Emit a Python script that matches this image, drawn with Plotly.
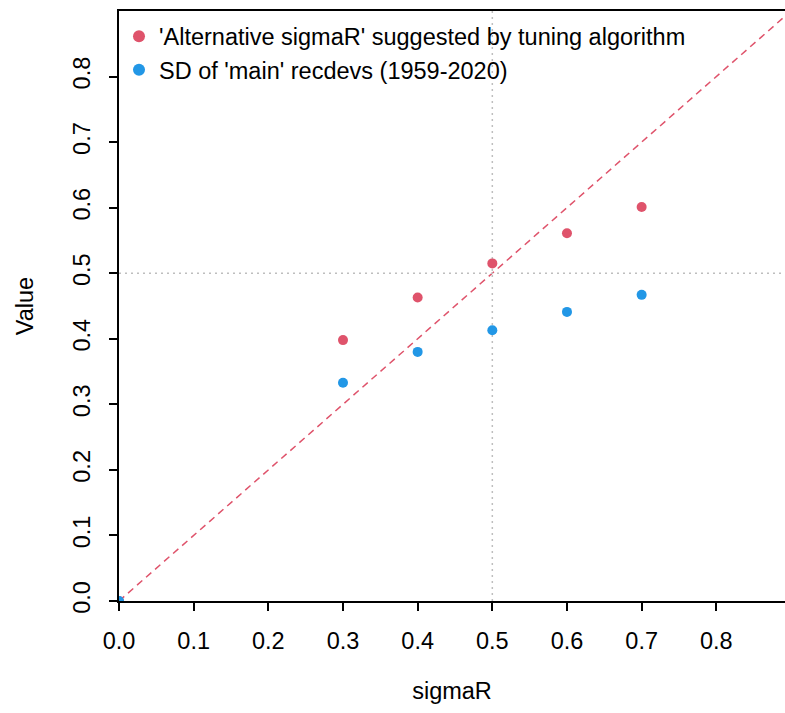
import plotly.graph_objects as go

sigmaR = [0.0, 0.3, 0.4, 0.5, 0.6, 0.7]
alt_sigmaR = [0.0, 0.398, 0.463, 0.515, 0.561, 0.601]
sd_recdevs = [0.0, 0.333, 0.380, 0.413, 0.441, 0.467]
tick_vals = [0.0, 0.1, 0.2, 0.3, 0.4, 0.5, 0.6, 0.7, 0.8]
tick_text = ["0.0", "0.1", "0.2", "0.3", "0.4", "0.5", "0.6", "0.7", "0.8"]
ref_val = 0.5
x_max = 0.892
y_max = 0.900

RED = "#DF536B"
BLUE = "#2297E6"
FONT = "Liberation Sans, Arial, sans-serif"
FS = 23.5

fig = go.Figure()

# 1:1 line
fig.add_trace(go.Scatter(x=[0, 0.95], y=[0, 0.95], mode="lines",
                         line=dict(color=RED, width=1.5, dash="7px,5px"),
                         showlegend=False, hoverinfo="skip"))
# reference lines
fig.add_trace(go.Scatter(x=[ref_val, ref_val], y=[0, y_max], mode="lines",
                         line=dict(color="#BEBEBE", width=1.5, dash="2px,4px"),
                         showlegend=False, hoverinfo="skip"))
fig.add_trace(go.Scatter(x=[0, x_max], y=[ref_val, ref_val], mode="lines",
                         line=dict(color="#BEBEBE", width=1.5, dash="2px,4px"),
                         showlegend=False, hoverinfo="skip"))

fig.add_trace(go.Scatter(x=sigmaR, y=alt_sigmaR, mode="markers",
                         marker=dict(color=RED, size=10),
                         name="'Alternative sigmaR' suggested by tuning algorithm",
                         cliponaxis=True))
fig.add_trace(go.Scatter(x=sigmaR, y=sd_recdevs, mode="markers",
                         marker=dict(color=BLUE, size=10),
                         name="SD of 'main' recdevs (1959-2020)",
                         cliponaxis=True))

axis_common = dict(tickvals=tick_vals, ticktext=tick_text,
                   showgrid=False, zeroline=False, ticks="outside", ticklen=8,
                   tickwidth=1.5, tickcolor="black", showline=True, linecolor="black",
                   linewidth=1.5,
                   tickfont=dict(family=FONT, size=FS, color="black"))

fig.update_xaxes(**axis_common, range=[0, x_max], mirror=True, ticklabelstandoff=10,
                 title=dict(text="sigmaR", font=dict(family=FONT, size=FS, color="black"),
                            standoff=30))
fig.update_yaxes(**axis_common, range=[0, y_max], mirror=False, tickangle=-90,
                 ticklabelstandoff=10,
                 title=dict(text="Value", font=dict(family=FONT, size=FS, color="black"),
                            standoff=29))

fig.update_layout(
    width=785, height=713,
    margin=dict(l=119, r=0, t=11, b=112),
    paper_bgcolor="white", plot_bgcolor="white",
    font=dict(family=FONT, size=FS, color="black"),
    legend=dict(x=0.0, y=0.994, xanchor="left", yanchor="top",
                bgcolor="rgba(0,0,0,0)", borderwidth=0,
                font=dict(family=FONT, size=FS, color="black"),
                tracegroupgap=0, itemsizing="constant"),
)

fig.write_html("out.html")
